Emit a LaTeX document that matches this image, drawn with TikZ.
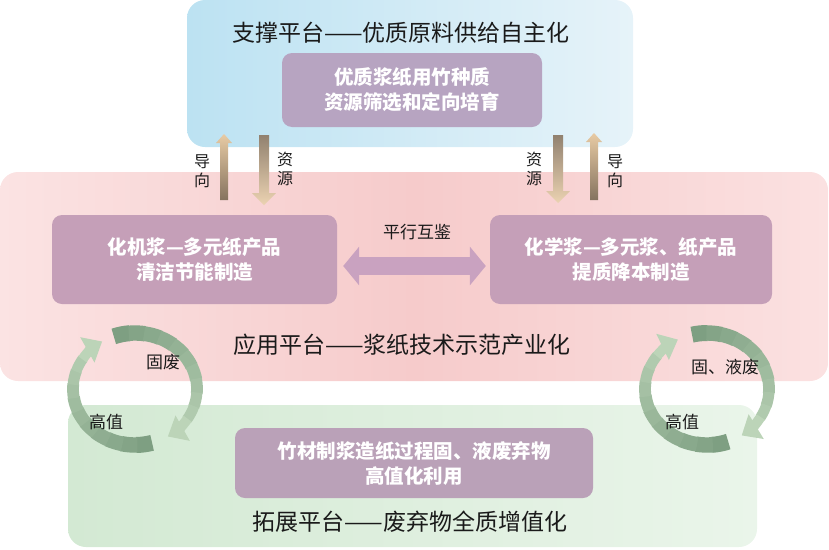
\documentclass[tikz,border=0pt]{standalone}
\usepackage{fontspec}
\setmainfont{Noto Sans CJK SC}
\usetikzlibrary{positioning,arrows.meta,calc}

\definecolor{bluel}{HTML}{BCE2F2}
\definecolor{bluer}{HTML}{E6F3F9}
\definecolor{pinkl}{HTML}{FBE3E3}
\definecolor{pinkm}{HTML}{F6CBCB}
\definecolor{pinkr}{HTML}{FBE1E1}
\definecolor{greenl}{HTML}{D3E9D3}
\definecolor{greenr}{HTML}{EAF5EA}
\definecolor{boxtop}{HTML}{B7A4C1}
\definecolor{boxmid}{HTML}{C59FB8}
\definecolor{boxbot}{HTML}{BAA1B8}
\definecolor{pairfill}{HTML}{C9A2C0}
\definecolor{tanlight}{HTML}{E8CBA4}
\definecolor{tandark}{HTML}{85735F}
\definecolor{cycdark}{HTML}{7E9F82}
\definecolor{cyclight}{HTML}{BCD4B8}
\definecolor{ink}{HTML}{1A1A1A}

\tikzset{
  panel/.style={rounded corners=18pt, inner sep=0pt},
  inbox/.style={rounded corners=10pt, text=white, align=center, inner sep=0pt,
    font=\fontsize{19.5}{25}\selectfont\bfseries},
  title/.style={text=ink, font=\fontsize{23}{27}\selectfont},
  tag/.style={text=ink, align=center, font=\fontsize{17}{19}\selectfont},
  pair/.style={pairfill, line width=18pt,
    {Triangle[width=38pt,length=16pt]}-{Triangle[width=38pt,length=16pt]}}
}

% block arrows between the platforms: x, tail y, tip y
\newcommand{\upblock}[3]{%
  \shade[top color=tanlight, bottom color=tandark]
    (#1-4,#2) -- (#1-4,#3+9) -- (#1-8,#3+9) -- (#1,#3) -- (#1+8,#3+9) -- (#1+4,#3+9) -- (#1+4,#2) -- cycle;}
\newcommand{\downblock}[3]{%
  \shade[top color=tandark!90!white, bottom color=tanlight!85!white]
    (#1-5,#2) -- (#1-5,#3-12) -- (#1-12,#3-12) -- (#1,#3) -- (#1+12,#3-12) -- (#1+5,#3-12) -- (#1+5,#2) -- cycle;}

% curved recycling arrow: centre, start angle, end angle
\newcommand{\cyclearc}[3]{%
  \foreach \i [evaluate=\i as \a using {(#2)+((#3)-(#2)-26)*\i/10},
               evaluate=\i as \b using {(#2)+((#3)-(#2)-26)*(\i+1)/10+1},
               evaluate=\i as \p using {int(100-9*\i)},
               evaluate=\i as \w using {16-0.6*\i}] in {0,...,9}
    \draw[cycdark!\p!cyclight, line width=\w pt]
      ($(#1)+(\a:62 and 56)$) arc[start angle=\a, end angle=\b, x radius=62, y radius=56];
  \pgfmathsetmacro\hs{(#3)-26}
  \draw[cyclight, line width=10pt, -{Triangle[width=28pt,length=17pt]}]
    ($(#1)+(\hs:62 and 56)$) arc[start angle=\hs, end angle=#3, x radius=62, y radius=56];}

\begin{document}
\begin{tikzpicture}[x=1pt,y=-1pt]
\useasboundingbox (0,0) rectangle (829,549);

% three platforms
\node[panel, left color=bluel, right color=bluer, minimum width=446pt, minimum height=147pt] (sup) at (410,73.5) {};
\node[panel, left color=pinkl, right color=pinkr, middle color=pinkm, minimum width=828pt, minimum height=209pt] (app) at (414,276.5) {};
\node[panel, left color=greenl, right color=greenr, minimum width=689pt, minimum height=142pt] (ext) at (412.5,476) {};

\node[title] (supt) at (401,33) {支撑平台——优质原料供给自主化};
\node[title] (appt) at (402,345) {应用平台——浆纸技术示范产业化};
\node[title] (extt) at (410,522) {拓展平台——废弃物全质增值化};

% inner boxes
\node[inbox, fill=boxtop, minimum width=260pt, minimum height=74pt] (seed) at (412,90) {优质浆纸用竹种质\\资源筛选和定向培育};
\node[inbox, fill=boxmid, minimum width=285pt, minimum height=89pt] (mech) at (194.5,259.5) {化机浆—多元纸产品\\清洁节能制造};
\node[inbox, fill=boxmid, minimum width=282pt, minimum height=89pt] (chem) at (631,259.5) {化学浆—多元浆、纸产品\\提质降本制造};
\node[inbox, fill=boxbot, minimum width=358pt, minimum height=70pt] (waste) at (414,463) {竹材制浆造纸过程固、液废弃物\\高值化利用};

\draw[pair] ([xshift=6pt,yshift=-6.5pt]mech.east) -- ([xshift=-4pt,yshift=-6.5pt]chem.west);
\node[tag] (pxhj) at (417,232) {平行互鉴};

% guidance and resources
\upblock{224}{200}{134}
\downblock{264}{135}{205}
\downblock{558}{135}{203}
\upblock{594}{200}{133}
\node[tag, font=\fontsize{16}{19}\selectfont] (dxL) at (202,171) {导\\向};
\node[tag, font=\fontsize{16}{19}\selectfont] (zyL) at (285,169) {资\\源};
\node[tag, font=\fontsize{16}{19}\selectfont] (zyR) at (534,169) {资\\源};
\node[tag, font=\fontsize{16}{19}\selectfont] (dxR) at (615,171) {导\\向};

% recycling loops
\coordinate (cycL) at (135,389);
\coordinate (cycR) at (707,389);
\cyclearc{cycL}{-110}{58}
\cyclearc{cycL}{74}{238}
\cyclearc{cycR}{-104}{56}
\cyclearc{cycR}{70}{242}
\node[tag] (gfL) at (163,362) {固废};
\node[tag] (gzL) at (106,422) {高值};
\node[tag] (gfR) at (725,367) {固、液废};
\node[tag] (gzR) at (682,422) {高值};
\end{tikzpicture}
\end{document}
